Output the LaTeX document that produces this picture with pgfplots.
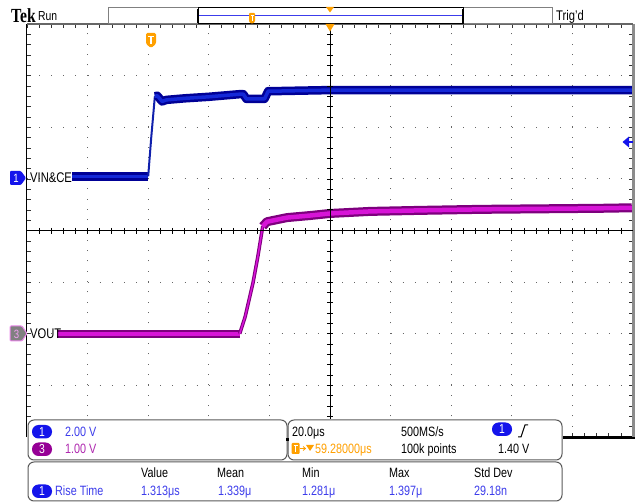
\documentclass[border=0pt]{standalone}
\usepackage{pgfplots}
\pgfplotsset{compat=1.18}
\usepackage{fontspec}
\setmainfont{Liberation Sans}[FakeStretch=0.8]
\newfontfamily\tekfont{Liberation Serif}[FakeStretch=0.78]
\definecolor{chA}{RGB}{20,40,215}
\definecolor{chAdark}{RGB}{0,0,150}
\definecolor{chC}{RGB}{215,20,215}
\definecolor{chCdark}{RGB}{125,0,125}
\definecolor{tblue}{RGB}{60,60,235}
\definecolor{cblue}{RGB}{20,20,235}
\definecolor{cpurp}{RGB}{150,0,150}
\definecolor{tpurp}{RGB}{175,40,175}
\definecolor{torange}{RGB}{255,160,0}
\definecolor{boxgray}{RGB}{90,90,90}
\begin{document}
\begin{tikzpicture}
\path[use as bounding box] (0pt,0pt) rectangle (635pt,-502pt);
\begin{axis}[at={(27pt,-437pt)}, anchor=south west, scale only axis,
  width=606pt, height=413pt,
  xmin=0, xmax=10, ymin=-4, ymax=4,
  xtick={0,...,10}, ytick={-4,...,4},
  minor x tick num=4, minor y tick num=4,
  xticklabels={}, yticklabels={},
  tick align=inside, major tick length=4pt, minor tick length=4pt,
  tick style={black!80, line width=0.6pt},
  grid=major,
  x grid style={black!60, line width=1pt, dash pattern=on 1pt off 9.325pt},
  y grid style={black!60, line width=1pt, dash pattern=on 1pt off 11.12pt},
  axis line style={black, line width=1pt},
  clip=false]
% Channel 1 (VIN&CE)
\addplot[chAdark, line width=8.5pt, no marks] coordinates {(0.74,1.05) (2.00,1.05)};
\addplot[chA, line width=3.5pt, no marks] coordinates {(0.74,1.05) (2.00,1.05)};
\addplot[chA!80!black, line width=2pt, no marks] coordinates {(2.00,1.05) (2.05,1.80) (2.11,2.60)};
\addplot[chAdark, line width=8.5pt, no marks, line join=round] coordinates {
 (2.11,2.60) (2.15,2.61) (2.23,2.50) (2.30,2.53) (2.60,2.56) (3.00,2.59)
 (3.50,2.64) (3.57,2.64) (3.62,2.55) (3.92,2.55) (3.98,2.70) (4.10,2.70)
 (5.00,2.72) (9.98,2.72)};
\addplot[chA, line width=3.5pt, no marks, line join=round] coordinates {
 (2.11,2.60) (2.15,2.61) (2.23,2.50) (2.30,2.53) (2.60,2.56) (3.00,2.59)
 (3.50,2.64) (3.57,2.64) (3.62,2.55) (3.92,2.55) (3.98,2.70) (4.10,2.70)
 (5.00,2.72) (9.98,2.72)};
% Channel 3 (VOUT)
\addplot[chCdark, line width=7.5pt, no marks] coordinates {(0.50,-2.00) (3.51,-2.00)};
\addplot[chC, line width=3.5pt, no marks] coordinates {(0.50,-2.00) (3.51,-2.00)};
\addplot[chCdark, line width=3.5pt, no marks, line join=round] coordinates {
 (3.51,-2.00) (3.60,-1.67) (3.73,-1.01) (3.81,-0.50) (3.89,0.08)};
\addplot[chC, line width=1.5pt, no marks, line join=round] coordinates {
 (3.51,-2.00) (3.60,-1.67) (3.73,-1.01) (3.81,-0.50) (3.89,0.08)};
\addplot[chCdark, line width=9pt, no marks, line join=round] coordinates {
 (3.89,0.08) (3.96,0.17) (4.29,0.25) (4.67,0.29) (5.00,0.33) (5.66,0.37)
 (6.49,0.39) (7.50,0.41) (9.46,0.43) (9.98,0.44)};
\addplot[chC, line width=4.5pt, no marks, line join=round] coordinates {
 (3.89,0.08) (3.96,0.17) (4.29,0.25) (4.67,0.29) (5.00,0.33) (5.66,0.37)
 (6.49,0.39) (7.50,0.41) (9.46,0.43) (9.98,0.44)};
\end{axis}
\begin{scope}[x=1pt,y=1pt]
% graticule borders and centre cross
\draw[black!45, line width=3pt] (633.5,-24) -- (633.5,-437);
\draw[black!60, line width=1.5pt] (27,-24) -- (633,-24);
\draw[black, line width=2.5pt] (27,-438) -- (635,-438);
\draw[black, line width=1pt] (330,-24) -- (330,-437);
\draw[black, line width=1pt] (27,-231) -- (633,-231);
\foreach \i in {1,...,49} \draw[black, line width=0.7pt] ({27+\i*12.12},-228) -- ++(0,-6);
\foreach \j in {1,...,39} \draw[black, line width=0.7pt] (327,{-24-\j*10.325}) -- ++(6,0);
% header
\node[anchor=base west, inner sep=0pt, font=\tekfont\bfseries\fontsize{20}{21}\selectfont] at (11,-23) {Tek};
\node[anchor=base west, inner sep=0pt, font=\fontsize{13}{15}\selectfont] at (38,-21) {Run};
\node[anchor=base west, inner sep=0pt, font=\fontsize{14}{16}\selectfont] at (556,-21) {Trig'd};
\draw[black!50, line width=1pt, fill=white] (108,-8) rectangle (198,-24);
\draw[black!50, line width=1pt, fill=white] (463,-8) rectangle (552,-24);
\draw[black, line width=1pt] (198,-8) rectangle (463,-24);
\draw[black, line width=2pt] (198,-9) -- (198,-23) (463,-9) -- (463,-23);
\draw[tblue, line width=1.5pt] (199,-15.5) -- (462,-15.5);
\fill[torange, rounded corners=1pt] (249,-13) -- (255,-13) -- (255,-22) -- (252,-24) -- (249,-22) -- cycle;
\draw[white, line width=0.8pt] (250.5,-15) -- (253.5,-15) (252,-15) -- (252,-21);
\fill[torange] (326,-7) -- (334,-7) -- (330,-12.5) -- cycle;
\fill[torange] (325.5,-24) -- (334.5,-24) -- (330,-31.5) -- cycle;
% trigger position marker
\fill[torange, rounded corners=1.5pt] (146,-33) -- (156,-33) -- (156,-44) -- (151,-48) -- (146,-44) -- cycle;
\draw[white, line width=1.2pt] (148.2,-36.5) -- (153.8,-36.5) (151,-36.5) -- (151,-44);
% trigger level arrow
\fill[cblue] (622.5,-142) -- (629,-136.5) -- (629,-147.5) -- cycle;
\draw[cblue, line width=1.5pt] (628,-142) -- (633,-142);
% channel markers
\fill[cblue, rounded corners=1pt] (10,-171) -- (21,-171) -- (26,-178) -- (21,-185) -- (10,-185) -- cycle;
\node[anchor=base, inner sep=0pt, white, font=\fontsize{12}{14}\selectfont] at (16,-182.5) {1};
\node[anchor=base west, inner sep=0pt, font=\fontsize{14}{16}\selectfont] at (30,-183) {VIN\&CE};
\draw[chC!50, line width=1pt, fill=black!50, rounded corners=1pt] (10,-326) -- (22,-326) -- (27,-333.5) -- (22,-341) -- (10,-341) -- cycle;
\node[anchor=base, inner sep=0pt, chC!40!white, font=\fontsize{12}{14}\selectfont] at (16.5,-338.5) {3};
\node[anchor=base west, inner sep=0pt, font=\fontsize{14}{16}\selectfont] at (30,-339) {VOUT};
% bottom panels
\fill[white] (26.5,-419.5) rectangle (562.5,-502);
\draw[boxgray, line width=1pt, rounded corners=6pt] (28,-420) rectangle (287,-460);
\draw[boxgray, line width=1pt, rounded corners=6pt] (288,-420) rectangle (562,-460);
\draw[boxgray, line width=1pt, rounded corners=6pt] (28,-462) rectangle (562,-501);
\fill[black] (286,-438) rectangle (289,-441);
\fill[cblue, rounded corners=6.5pt] (32,-425) rectangle (52,-438.5);
\node[anchor=base, inner sep=0pt, white, font=\fontsize{13}{15}\selectfont] at (42,-436.5) {1};
\fill[cpurp, rounded corners=6.5pt] (32,-442.5) rectangle (52,-456);
\node[anchor=base, inner sep=0pt, white, font=\fontsize{13}{15}\selectfont] at (42,-454) {3};
\node[anchor=base west, inner sep=0pt, tblue, font=\fontsize{13.5}{15}\selectfont] at (65,-437) {2.00 V};
\node[anchor=base west, inner sep=0pt, tpurp, font=\fontsize{13.5}{15}\selectfont] at (65,-454) {1.00 V};
\node[anchor=base west, inner sep=0pt, font=\fontsize{13.5}{15}\selectfont] at (292,-437) {20.0μs};
\node[anchor=base west, inner sep=0pt, font=\fontsize{13.5}{15}\selectfont] at (401,-437) {500MS/s};
\fill[cblue, rounded corners=6.5pt] (492,-422.5) rectangle (512,-436);
\node[anchor=base, inner sep=0pt, white, font=\fontsize{13}{15}\selectfont] at (502,-434) {1};
\draw[black, line width=1pt] (518,-437) -- (521,-437) -- (525,-425) -- (528,-425);
\fill[torange, rounded corners=1pt] (291.5,-443) rectangle (299.5,-454);
\draw[white, line width=1pt] (293.5,-445.5) -- (297.5,-445.5) (295.5,-445.5) -- (295.5,-452);
\draw[torange, line width=1pt] (300,-448.5) -- (305,-448.5);
\draw[torange, line width=0.8pt] (303,-446.5) -- (305.5,-448.5) -- (303,-450.5);
\fill[torange] (306,-445) -- (314,-445) -- (310,-451) -- cycle;
\node[anchor=base west, inner sep=0pt, torange, font=\fontsize{13.5}{15}\selectfont] at (315,-454) {59.28000μs};
\node[anchor=base west, inner sep=0pt, font=\fontsize{13.5}{15}\selectfont] at (401,-454) {100k points};
\node[anchor=base west, inner sep=0pt, font=\fontsize{13.5}{15}\selectfont] at (498,-454) {1.40 V};
% measurement panel
\node[anchor=base west, inner sep=0pt, font=\fontsize{13.5}{15}\selectfont] at (141,-478) {Value};
\node[anchor=base west, inner sep=0pt, font=\fontsize{13.5}{15}\selectfont] at (217,-478) {Mean};
\node[anchor=base west, inner sep=0pt, font=\fontsize{13.5}{15}\selectfont] at (302,-478) {Min};
\node[anchor=base west, inner sep=0pt, font=\fontsize{13.5}{15}\selectfont] at (389,-478) {Max};
\node[anchor=base west, inner sep=0pt, font=\fontsize{13.5}{15}\selectfont] at (474,-478) {Std Dev};
\fill[cblue, rounded corners=6.5pt] (32,-484.5) rectangle (52,-498);
\node[anchor=base, inner sep=0pt, white, font=\fontsize{13}{15}\selectfont] at (42,-496) {1};
\node[anchor=base west, inner sep=0pt, tblue, font=\fontsize{13.5}{15}\selectfont] at (55,-496) {Rise Time};
\node[anchor=base west, inner sep=0pt, tblue, font=\fontsize{13.5}{15}\selectfont] at (141,-496) {1.313μs};
\node[anchor=base west, inner sep=0pt, tblue, font=\fontsize{13.5}{15}\selectfont] at (218,-496) {1.339μ};
\node[anchor=base west, inner sep=0pt, tblue, font=\fontsize{13.5}{15}\selectfont] at (302,-496) {1.281μ};
\node[anchor=base west, inner sep=0pt, tblue, font=\fontsize{13.5}{15}\selectfont] at (389,-496) {1.397μ};
\node[anchor=base west, inner sep=0pt, tblue, font=\fontsize{13.5}{15}\selectfont] at (474,-496) {29.18n};
\end{scope}
\end{tikzpicture}
\end{document}
